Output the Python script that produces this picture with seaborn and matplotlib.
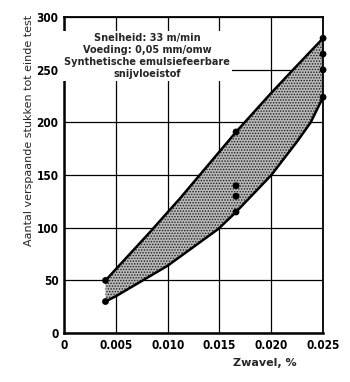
import matplotlib
matplotlib.use("Agg")
from matplotlib import pyplot as plt
import seaborn as sns
import numpy as np
import pandas as pd

sns.set_style("white")
plt.rcParams['font.family'] = ['DejaVu Sans']
plt.rcParams['hatch.linewidth'] = 0.7

# band boundaries
upper_x = [0.004, 0.0083, 0.0112, 0.0166, 0.0199, 0.022, 0.025]
upper_y = [50, 96, 128, 191, 227, 249, 280]
lower_x = [0.004, 0.005, 0.010, 0.0149, 0.0166, 0.020, 0.0225, 0.0238, 0.025]
lower_y = [30, 35, 64, 99, 115, 150, 182, 200, 224]

# measured points
pts_x = [0.004, 0.004, 0.0166, 0.0166, 0.0166, 0.0166, 0.025, 0.025, 0.025, 0.025]
pts_y = [50, 30, 191, 140, 130, 115, 280, 265, 250, 224]

xticks = [0, 0.005, 0.010, 0.015, 0.020, 0.025]
xtick_labels = ['0', '0.005', '0.010', '0.015', '0.020', '0.025']
yticks = [0, 50, 100, 150, 200, 250, 300]

note = "Snelheid: 33 m/min\nVoeding: 0,05 mm/omw\nSynthetische emulsiefeerbare\nsnijvloeistof"

fig = plt.figure(figsize=(3.5, 3.82), dpi=100)
ax = fig.add_axes([0.183, 0.128, 0.74, 0.827])

# shaded band (stippled)
poly_x = upper_x + lower_x[::-1]
poly_y = upper_y + lower_y[::-1]
ax.fill(poly_x, poly_y, facecolor='#b8b8b8', edgecolor='#202020', hatch='......',
        linewidth=0, zorder=2)

up = pd.DataFrame({'x': upper_x, 'y': upper_y})
lo = pd.DataFrame({'x': lower_x, 'y': lower_y})
sns.lineplot(data=up, x='x', y='y', color='black', linewidth=1.8, ax=ax, zorder=3)
sns.lineplot(data=lo, x='x', y='y', color='black', linewidth=1.8, ax=ax, zorder=3)

pts = pd.DataFrame({'x': pts_x, 'y': pts_y})
sns.scatterplot(data=pts, x='x', y='y', color='black', s=24, edgecolor='none',
                ax=ax, zorder=4, clip_on=False)

ax.set_xlim(0, 0.025)
ax.set_ylim(0, 300)
ax.set_xticks(xticks)
ax.set_xticklabels(xtick_labels)
ax.set_yticks(yticks)
ax.grid(True, color='black', linewidth=0.9)
ax.set_axisbelow(True)
for lab in ax.get_xticklabels() + ax.get_yticklabels():
    lab.set_fontweight('bold')
    lab.set_fontstretch('condensed')
ax.tick_params(length=0, labelsize=8.5, pad=4, colors='black')
for side in ['left', 'bottom']:
    ax.spines[side].set_linewidth(1.8)
for side in ['top', 'right']:
    ax.spines[side].set_linewidth(1.3)
for s in ax.spines.values():
    s.set_color('black')

ax.set_xlabel('Zwavel, %', fontsize=8, fontweight='bold')
ax.xaxis.set_label_coords(0.776, -0.08)
ax.set_ylabel('Aantal verspaande stukken tot einde test', fontsize=8)
ax.yaxis.set_label_coords(-0.115, 0.64)

ax.text(0.0080, 263, note, ha='center', va='center', fontsize=7, fontweight='bold',
        linespacing=1.25, zorder=5,
        bbox=dict(facecolor='white', edgecolor='none', pad=1.5))

fig.savefig('out.png', dpi=100)
